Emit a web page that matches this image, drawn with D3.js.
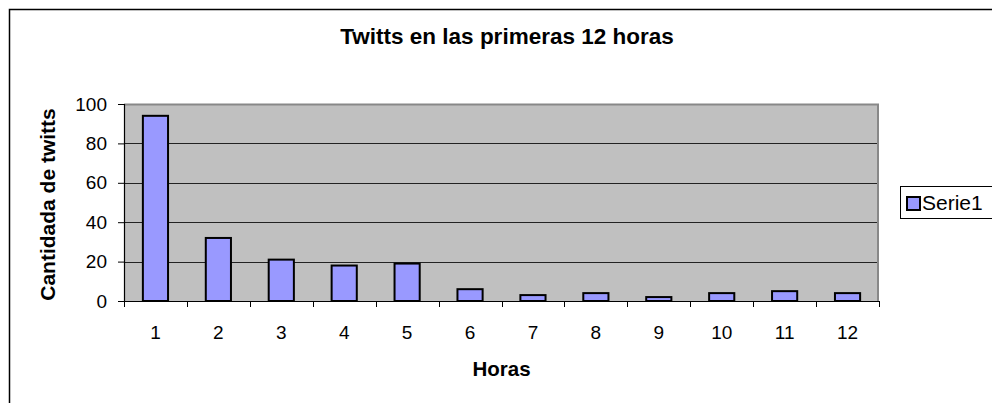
<!DOCTYPE html>
<html>
<head>
<meta charset="utf-8">
<script src="https://cdn.jsdelivr.net/npm/d3@7"></script>
<style>
  html, body { margin: 0; padding: 0; background: #fff; }
  svg { display: block; font-family: Arial, "Liberation Sans", sans-serif; }
</style>
</head>
<body>
<svg id="chart" width="992" height="403"></svg>
<script>
// Tweets per hour during the first 12 hours
const hours = ["1", "2", "3", "4", "5", "6", "7", "8", "9", "10", "11", "12"];
const tweets = [94, 32, 21, 18, 19, 6, 3, 4, 2, 4, 5, 4];
const yTicks = [0, 20, 40, 60, 80, 100];
const seriesName = "Serie1";
const titleText = "Twitts en las primeras 12 horas";
const xTitle = "Horas";
const yTitle = "Cantidada de twitts";

const svg = d3.select("#chart");
const plot = { left: 124, top: 104, right: 879, bottom: 301 };

// Outer chart frame (runs past the right and bottom edges of the view)
svg.append("rect")
  .attr("x", 9.5).attr("y", 9.5)
  .attr("width", 1000).attr("height", 420)
  .attr("fill", "#fff").attr("stroke", "#000").attr("stroke-width", 1.5);

const x = d3.scaleBand()
  .domain(hours)
  .range([plot.left, plot.right])
  .paddingInner(0.6)
  .paddingOuter(0.3);

const y = d3.scaleLinear()
  .domain([0, 100])
  .range([plot.bottom, plot.top]);

// Plot background
svg.append("rect")
  .attr("x", plot.left).attr("y", plot.top)
  .attr("width", plot.right - plot.left).attr("height", plot.bottom - plot.top)
  .attr("fill", "#c0c0c0");

// Horizontal gridlines
svg.append("g")
  .selectAll("line")
  .data(yTicks.filter(d => d > 0 && d < 100))
  .join("line")
  .attr("x1", plot.left).attr("x2", plot.right)
  .attr("y1", d => Math.round(y(d)) + 0.5).attr("y2", d => Math.round(y(d)) + 0.5)
  .attr("stroke", "#222").attr("stroke-width", 1);

// Plot frame (grey top and right edges)
svg.append("path")
  .attr("d", `M${plot.left},${plot.top + 0.5}H${plot.right - 1}V${plot.bottom}`)
  .attr("fill", "none").attr("stroke", "#888").attr("stroke-width", 2);

// Bars
svg.append("g")
  .selectAll("rect")
  .data(tweets)
  .join("rect")
  .attr("x", (d, i) => x(hours[i]))
  .attr("y", d => y(d))
  .attr("width", x.bandwidth())
  .attr("height", d => y(0) - y(d))
  .attr("fill", "#9999ff")
  .attr("stroke", "#000")
  .attr("stroke-width", 2);

// Y axis
const yAxis = svg.append("g")
  .attr("transform", `translate(${plot.left},0)`)
  .call(d3.axisLeft(y).tickValues(yTicks).tickSize(6).tickPadding(11));
yAxis.select(".domain").attr("stroke", "#000").attr("stroke-width", 1.2);
yAxis.selectAll(".tick line").attr("stroke", "#000");
yAxis.selectAll("text")
  .attr("font-size", 19).attr("fill", "#000")
  .attr("font-family", "Arial, 'Liberation Sans', sans-serif");

// X axis: line plus ticks at category boundaries
const xAxis = svg.append("g");
xAxis.append("line")
  .attr("x1", plot.left).attr("x2", plot.right)
  .attr("y1", plot.bottom + 0.5).attr("y2", plot.bottom + 0.5)
  .attr("stroke", "#000").attr("stroke-width", 1.2);
const step = x.step();
xAxis.selectAll("line.tk")
  .data(d3.range(hours.length + 1))
  .join("line")
  .attr("class", "tk")
  .attr("x1", i => Math.round(plot.left + i * step) + 0.5)
  .attr("x2", i => Math.round(plot.left + i * step) + 0.5)
  .attr("y1", plot.bottom).attr("y2", plot.bottom + 6)
  .attr("stroke", "#000");
xAxis.selectAll("text")
  .data(hours)
  .join("text")
  .attr("x", d => x(d) + x.bandwidth() / 2)
  .attr("y", 339)
  .attr("text-anchor", "middle")
  .attr("font-size", 19)
  .text(d => d);

// Titles
svg.append("text")
  .attr("x", 507).attr("y", 44)
  .attr("text-anchor", "middle")
  .attr("font-size", 22.5).attr("font-weight", "bold")
  .text(titleText);

svg.append("text")
  .attr("x", (plot.left + plot.right) / 2).attr("y", 376)
  .attr("text-anchor", "middle")
  .attr("font-size", 20.5).attr("font-weight", "bold")
  .text(xTitle);

svg.append("text")
  .attr("transform", `translate(55,${(plot.top + plot.bottom) / 2 + 2}) rotate(-90)`)
  .attr("text-anchor", "middle")
  .attr("font-size", 21).attr("font-weight", "bold")
  .text(yTitle);

// Legend (box continues past the right edge of the view)
const legend = svg.append("g").attr("transform", "translate(900,186)");
legend.append("rect")
  .attr("x", 0.5).attr("y", 0.5)
  .attr("width", 120).attr("height", 32)
  .attr("fill", "#fff").attr("stroke", "#000").attr("stroke-width", 1);
legend.append("rect")
  .attr("x", 7).attr("y", 11)
  .attr("width", 13).attr("height", 13)
  .attr("fill", "#9999ff").attr("stroke", "#000").attr("stroke-width", 2);
legend.append("text")
  .attr("x", 22).attr("y", 24)
  .attr("font-size", 21)
  .text(seriesName);
</script>
</body>
</html>
